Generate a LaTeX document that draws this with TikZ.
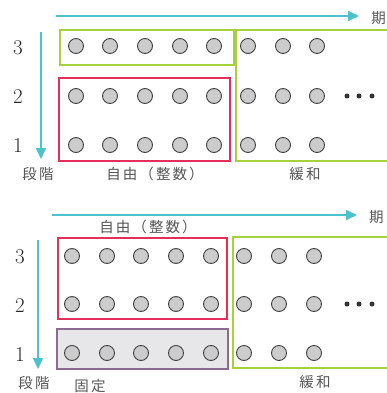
\documentclass[tikz,border=0pt]{standalone}
\usepackage{fontspec}
\newfontfamily\cjk[LetterSpace=14]{Noto Sans CJK JP}
\newfontfamily\cjkplain{Noto Sans CJK JP}
\usetikzlibrary{arrows.meta}
\definecolor{cyanA}{HTML}{4BC3CF}
\definecolor{greenA}{HTML}{A6D13A}
\definecolor{redA}{HTML}{E62E5C}
\definecolor{purpA}{HTML}{8B6B8F}
\definecolor{fixfill}{HTML}{E7E7E9}
\definecolor{txtgray}{HTML}{555555}
\tikzset{
  ball/.style={circle,draw=black!75,fill=black!20,line width=0.9pt,minimum size=15pt,inner sep=0pt},
  smalldot/.style={circle,fill=black!80,minimum size=5pt,inner sep=0pt},
  axis/.style={draw=cyanA,line width=1.6pt,-{Triangle[length=11pt,width=10pt]}},
  greenbox/.style={draw=greenA,line width=1.3pt},
  redbox/.style={draw=redA,line width=1.3pt},
  fixbox/.style={draw=purpA,fill=fixfill,line width=1.3pt},
  lab/.style={font=\cjk\fontsize{14.5}{14.5}\selectfont,text=txtgray,inner sep=0pt},
  endlab/.style={font=\cjkplain\fontsize{14.5}{14.5}\selectfont,text=txtgray,inner sep=0pt},
  num/.style={font=\fontsize{21}{21}\selectfont,text=black!85,inner sep=0pt},
}
\begin{document}
\begin{tikzpicture}[x=1pt,y=-1pt]
\useasboundingbox (0,0) rectangle (387,393);
% ---------- top diagram ----------
\coordinate (hA) at (56,16);
\coordinate (hB) at (359,16);
\draw[axis] (hA) -- (hB);
\node[endlab,anchor=east] (qi1) at (386,18) {期};
\coordinate (vA) at (41,32);
\coordinate (vB) at (41,159);
\draw[axis] (vA) -- (vB);
\node[num] (t3) at (18,48) {3};
\node[num] (t2) at (18,97) {2};
\node[num] (t1) at (18,146) {1};
\draw[greenbox] (60,30) rectangle (234,65);
\draw[redbox] (59,78) rectangle (230,161);
\draw[greenbox] (236,30) rectangle (400,161);
\foreach \x [count=\i] in {76,110,145,180,214,248,283,317}{
  \node[ball] (ta\i) at (\x,46) {};
  \node[ball] (tb\i) at (\x,96) {};
  \node[ball] (tc\i) at (\x,145) {};
}
\foreach \x [count=\i] in {347,359,372}{
  \node[smalldot] (td\i) at (\x,96) {};
}
\node[lab] (tdan) at (38,174) {段階};
\node[lab] (tfree) at (155,174) {自由（整数）};
\node[lab] (trel) at (305,174) {緩和};
% ---------- bottom diagram ----------
\coordinate (hC) at (52,215);
\coordinate (hD) at (357,215);
\draw[axis] (hC) -- (hD);
\node[endlab,anchor=west] (qi2) at (369,217) {期};
\node[lab] (bfree) at (148,227) {自由（整数）};
\coordinate (vC) at (38,240);
\coordinate (vD) at (38,369);
\draw[axis] (vC) -- (vD);
\node[num] (b3) at (20,257) {3};
\node[num] (b2) at (20,306) {2};
\node[num] (b1) at (20,355) {1};
\draw[redbox] (58,238) rectangle (227,319);
\draw[fixbox] (57,329) rectangle (228,369);
\draw[greenbox] (233,237) rectangle (400,368);
\foreach \x [count=\i] in {72,107,141,176,211,244,279,314}{
  \node[ball] (ba\i) at (\x,256) {};
  \node[ball] (bb\i) at (\x,304) {};
  \node[ball] (bc\i) at (\x,353) {};
}
\foreach \x [count=\i] in {347,359,372}{
  \node[smalldot] (bd\i) at (\x,304) {};
}
\node[lab] (bdan) at (34,383) {段階};
\node[lab] (bfix) at (90,386) {固定};
\node[lab] (brel) at (315,382) {緩和};
\end{tikzpicture}
\end{document}
